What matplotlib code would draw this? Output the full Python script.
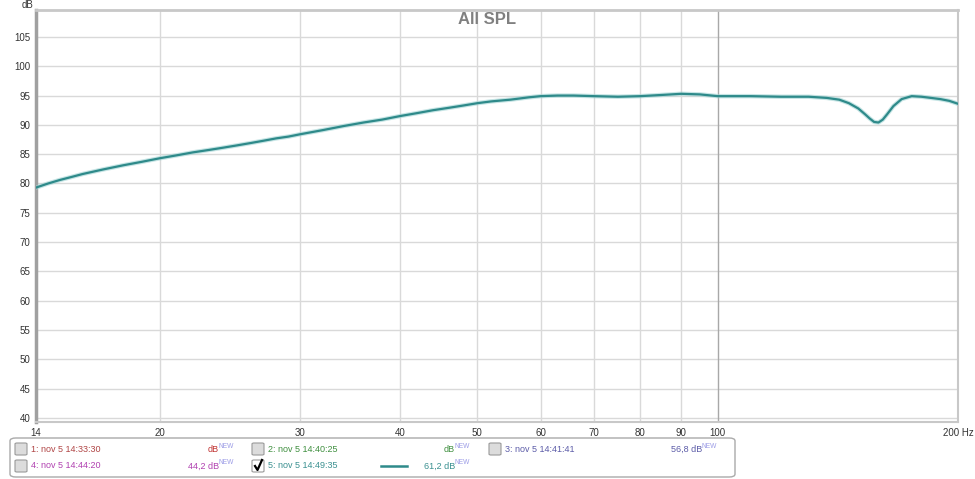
import matplotlib
matplotlib.use("Agg")
import matplotlib.pyplot as plt
from matplotlib.ticker import FixedLocator, NullLocator, FixedFormatter
from matplotlib.patches import FancyBboxPatch
from matplotlib.lines import Line2D

plt.rcParams['font.family'] = ['Liberation Sans', 'DejaVu Sans']

# ---- data ----
freq = [14, 14.5, 15, 15.5, 16, 17, 18, 19, 20, 21, 22, 23, 24, 25, 26, 27, 28, 29, 30,
        32, 34, 36, 38, 40, 42, 44, 46, 48, 50, 52, 55, 58, 60, 63, 66, 70, 75, 80, 85,
        90, 95, 100, 110, 120, 130, 137, 142, 146, 150, 153, 155, 157, 159, 161, 163,
        166, 170, 175, 180, 185, 190, 195, 200]
spl = [79.3, 80.0, 80.6, 81.1, 81.6, 82.4, 83.1, 83.7, 84.3, 84.8, 85.3, 85.7, 86.1, 86.5,
       86.9, 87.3, 87.7, 88.0, 88.4, 89.1, 89.8, 90.4, 90.9, 91.5, 92.0, 92.5, 92.9, 93.3,
       93.7, 94.0, 94.3, 94.7, 94.9, 95.0, 95.0, 94.9, 94.8, 94.9, 95.1, 95.3, 95.2, 94.9,
       94.9, 94.8, 94.8, 94.6, 94.3, 93.7, 92.8, 91.8, 91.1, 90.5, 90.4, 90.9, 91.8,
       93.2, 94.4, 94.9, 94.8, 94.6, 94.4, 94.1, 93.6]

x_ticks = [14, 20, 30, 40, 50, 60, 70, 80, 90, 100, 200]
x_labels = ['14', '20', '30', '40', '50', '60', '70', '80', '90', '100', '200 Hz']
y_ticks = [40, 45, 50, 55, 60, 65, 70, 75, 80, 85, 90, 95, 100, 105]

legend_names = ['1: nov 5 14:33:30', '2: nov 5 14:40:25', '3: nov 5 14:41:41',
                '4: nov 5 14:44:20', '5: nov 5 14:49:35']
legend_values = ['dB', 'dB', '56,8 dB', '44,2 dB', '61,2 dB']
legend_checked = [False, False, False, False, True]
legend_colors = ['#b04545', '#3f8f3f', '#5c5ca8', '#b040b0', '#3a9090']
value_colors = ['#c03030', '#3f8f3f', '#5c5ca8', '#b040b0', '#3a9090']

W, H = 975, 479
fig = plt.figure(figsize=(W / 100, H / 100), dpi=100)
fig.patch.set_facecolor('white')

def fx(px):
    return px / W

def fy(py):
    return 1 - py / H

ax_l, ax_r, ax_t, ax_b = 36, 958, 10, 422
ax = fig.add_axes([fx(ax_l), fy(ax_b), fx(ax_r - ax_l), (ax_b - ax_t) / H])
ax.set_xscale('log')
ax.set_xlim(14, 200)
ax.set_ylim(39.3, 109.6)

grid_c = '#d9d9d9'
for yt in y_ticks:
    ax.axhline(yt, color=grid_c, lw=1.0, zorder=1)
for xt in x_ticks[1:-1]:
    ax.axvline(xt, color='#a8a8a8' if xt == 100 else grid_c, lw=1.0, zorder=1)

ax.plot(freq, spl, color='#9fd3d3', lw=3.2, alpha=0.6, zorder=3, solid_capstyle='round')
ax.plot(freq, spl, color='#2e8a8a', lw=1.6, zorder=4, solid_joinstyle='round')

ax.xaxis.set_major_locator(FixedLocator(x_ticks))
ax.xaxis.set_major_formatter(FixedFormatter(x_labels))
ax.xaxis.set_minor_locator(NullLocator())
ax.set_yticks(y_ticks)
ax.tick_params(axis='both', length=0, labelsize=7, colors='#333333')
ax.tick_params(axis='x', pad=4)
ax.tick_params(axis='y', pad=4)

for side, c, w in [('left', '#a0a0a0', 2.5), ('top', '#c8c8c8', 2.0),
                   ('right', '#c8c8c8', 1.5), ('bottom', '#c8c8c8', 1.5)]:
    ax.spines[side].set_color(c)
    ax.spines[side].set_linewidth(w)

fig.text(fx(22), fy(5), 'dB', fontsize=7, color='#333333', ha='left', va='center')
fig.text(fx(487), fy(19), 'All SPL', fontsize=12, fontweight='bold', color='#808080',
         ha='center', va='center')

# ---- legend panel ----
box = FancyBboxPatch((fx(10), fy(477)), fx(725), (477 - 438) / H,
                     boxstyle='round,pad=0,rounding_size=0.006',
                     transform=fig.transFigure, facecolor='white',
                     edgecolor='#aaaaaa', lw=1.0)
fig.patches.append(box)

cols_x = [15, 252, 489]
value_right = [219, 455, 702]
rows_y = [449, 466]
for i, name in enumerate(legend_names):
    r, c = divmod(i, 3)
    cx, cy = cols_x[c], rows_y[r]
    fc = 'white' if legend_checked[i] else '#dcdcdc'
    cb = FancyBboxPatch((fx(cx), fy(cy + 6)), fx(12), 12 / H,
                        boxstyle='round,pad=0,rounding_size=0.002',
                        transform=fig.transFigure, facecolor=fc,
                        edgecolor='#9a9a9a', lw=0.8)
    fig.patches.append(cb)
    if legend_checked[i]:
        fig.add_artist(Line2D([fx(cx + 3), fx(cx + 5.5), fx(cx + 10)],
                              [fy(cy), fy(cy + 4), fy(cy - 6)],
                              transform=fig.transFigure, color='black', lw=1.6))
    fig.text(fx(cx + 16), fy(cy), name, fontsize=6.5, color=legend_colors[i],
             ha='left', va='center')
    fig.text(fx(value_right[c]), fy(cy), legend_values[i], fontsize=6.5,
             color=value_colors[i], ha='right', va='center')
    fig.text(fx(value_right[c] - 0.5), fy(cy - 3), 'NEW', fontsize=4.8, color='#9a9ae6',
             ha='left', va='center')
    if legend_checked[i]:
        fig.add_artist(Line2D([fx(381), fx(407)], [fy(cy), fy(cy)],
                              transform=fig.transFigure, color='#2e8a8a', lw=1.8))

fig.savefig('out.png', dpi=100, facecolor='white')
